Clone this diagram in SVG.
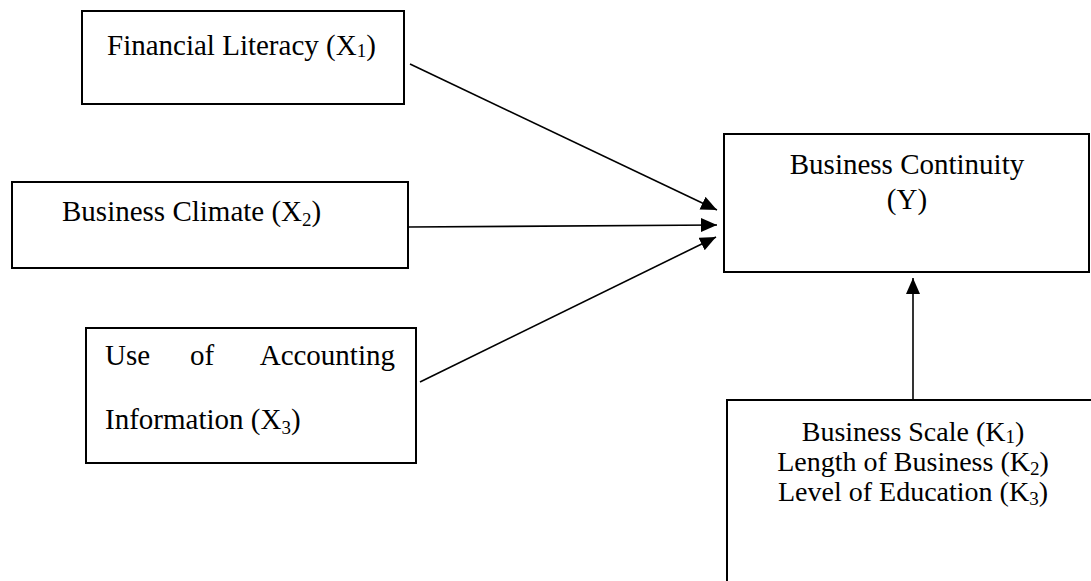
<svg xmlns="http://www.w3.org/2000/svg" width="1091" height="581" viewBox="0 0 1091 581">
<style>
.box{fill:#fff;stroke:#000;stroke-width:2}
.t{font-family:"Liberation Serif","Times New Roman",serif;font-size:29px;fill:#000}
.k{font-size:28px}
.c{text-anchor:middle}
.sub{font-size:19px}
.edge{stroke:#000;stroke-width:1.6;fill:none;marker-end:url(#ah)}
</style>
<defs>
<marker id="ah" markerUnits="userSpaceOnUse" markerWidth="18" markerHeight="16" refX="16" refY="7" orient="auto">
<path d="M0,0 L16,7 L0,14 Z" fill="#000"/>
</marker>
</defs>
<rect width="1091" height="581" fill="#fff"/>
<g id="connectors">
<line class="edge" x1="410" y1="64" x2="717" y2="210"/>
<line class="edge" x1="408" y1="227" x2="717" y2="225"/>
<line class="edge" x1="420" y1="382" x2="716" y2="237"/>
<line class="edge" x1="913" y1="400" x2="913" y2="278"/>
</g>
<g id="x1">
<rect class="box" x="82" y="11" width="322" height="93"/>
<text class="t" x="107" y="55">Financial Literacy (X<tspan class="sub" dy="2">1</tspan><tspan dy="-2">)</tspan></text>
</g>
<g id="x2">
<rect class="box" x="12" y="182" width="396" height="86"/>
<text class="t" x="62" y="221">Business Climate (X<tspan class="sub" dy="5">2</tspan><tspan dy="-5">)</tspan></text>
</g>
<g id="x3">
<rect class="box" x="86" y="328" width="330" height="135"/>
<text class="t" x="105" y="365">Use</text>
<text class="t" x="190" y="365">of</text>
<text class="t" x="395" y="365" text-anchor="end">Accounting</text>
<text class="t" x="105" y="429">Information (X<tspan class="sub" dy="5">3</tspan><tspan dy="-5">)</tspan></text>
</g>
<g id="y">
<rect class="box" x="724" y="134" width="365" height="138"/>
<text class="t c" x="907" y="174">Business Continuity</text>
<text class="t c" x="907" y="209">(Y)</text>
</g>
<g id="k">
<path class="box" d="M727,590 L727,400 L1095,400" fill="none"/>
<text class="t k c" x="913" y="441">Business Scale (K<tspan class="sub" dy="2">1</tspan><tspan dy="-2">)</tspan></text>
<text class="t k c" x="913" y="471">Length of Business (K<tspan class="sub" dy="4">2</tspan><tspan dy="-4">)</tspan></text>
<text class="t k c" x="913" y="501">Level of Education (K<tspan class="sub" dy="4">3</tspan><tspan dy="-4">)</tspan></text>
</g>
</svg>
